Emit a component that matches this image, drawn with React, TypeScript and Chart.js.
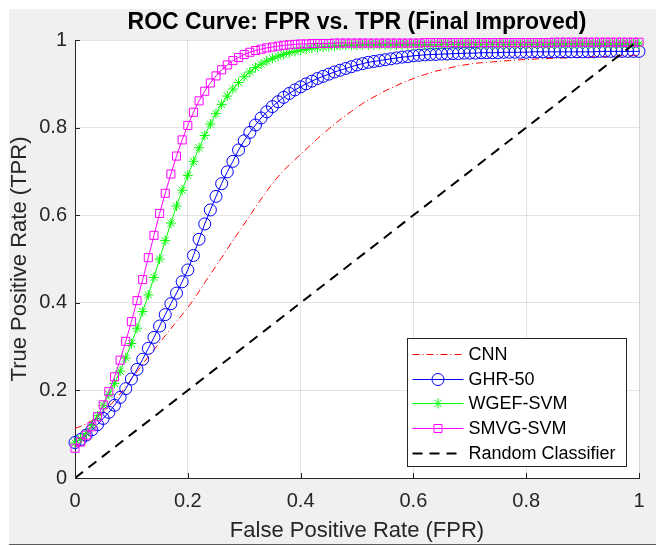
import React, { useEffect, useRef } from 'react';
import { Chart, registerables } from 'chart.js';

Chart.register(...registerables);

// ---------- data ----------
const FPR = [
  0, 0.01, 0.02, 0.03, 0.04, 0.05, 0.06, 0.07, 0.08, 0.09,
  0.1, 0.11, 0.12, 0.13, 0.14, 0.15, 0.16, 0.17, 0.18, 0.19,
  0.2, 0.21, 0.22, 0.23, 0.24, 0.25, 0.26, 0.27, 0.28, 0.29,
  0.3, 0.31, 0.32, 0.33, 0.34, 0.35, 0.36, 0.37, 0.38, 0.39,
  0.4, 0.41, 0.42, 0.43, 0.44, 0.45, 0.46, 0.47, 0.48, 0.49,
  0.5, 0.51, 0.52, 0.53, 0.54, 0.55, 0.56, 0.57, 0.58, 0.59,
  0.6, 0.61, 0.62, 0.63, 0.64, 0.65, 0.66, 0.67, 0.68, 0.69,
  0.7, 0.71, 0.72, 0.73, 0.74, 0.75, 0.76, 0.77, 0.78, 0.79,
  0.8, 0.81, 0.82, 0.83, 0.84, 0.85, 0.86, 0.87, 0.88, 0.89,
  0.9, 0.91, 0.92, 0.93, 0.94, 0.95, 0.96, 0.97, 0.98, 0.99,
  1,
];

const CNN_TPR = [
  0.113, 0.118, 0.124, 0.131, 0.139, 0.150, 0.163, 0.177, 0.192, 0.209,
  0.226, 0.243, 0.260, 0.277, 0.293, 0.309, 0.325, 0.341, 0.357, 0.373,
  0.389, 0.407, 0.426, 0.446, 0.465, 0.484, 0.503, 0.523, 0.542, 0.561,
  0.580, 0.599, 0.618, 0.637, 0.655, 0.672, 0.688, 0.702, 0.715, 0.727,
  0.739, 0.751, 0.763, 0.775, 0.786, 0.797, 0.808, 0.818, 0.828, 0.837,
  0.846, 0.855, 0.863, 0.870, 0.877, 0.884, 0.890, 0.896, 0.902, 0.907,
  0.912, 0.917, 0.921, 0.925, 0.929, 0.932, 0.935, 0.938, 0.941, 0.943,
  0.945, 0.947, 0.948, 0.949, 0.950, 0.951, 0.952, 0.953, 0.954, 0.955,
  0.955, 0.956, 0.957, 0.957, 0.958, 0.958, 0.959, 0.959, 0.960, 0.960,
  0.961, 0.961, 0.962, 0.962, 0.962, 0.963, 0.963, 0.964, 0.964, 0.965,
  0.965,
];

const GHR50_TPR = [
  0.081, 0.088, 0.098, 0.110, 0.122, 0.136, 0.150, 0.166, 0.184, 0.204,
  0.226, 0.248, 0.271, 0.296, 0.321, 0.347, 0.373, 0.398, 0.422, 0.448,
  0.475, 0.508, 0.545, 0.580, 0.612, 0.643, 0.672, 0.699, 0.723, 0.749,
  0.770, 0.789, 0.806, 0.822, 0.836, 0.848, 0.859, 0.869, 0.878, 0.886,
  0.893, 0.900, 0.906, 0.912, 0.917, 0.922, 0.927, 0.931, 0.935, 0.939,
  0.943, 0.946, 0.949, 0.951, 0.953, 0.955, 0.957, 0.959, 0.961, 0.962,
  0.964, 0.965, 0.966, 0.967, 0.967, 0.968, 0.968, 0.969, 0.969, 0.970,
  0.970, 0.970, 0.971, 0.971, 0.971, 0.971, 0.972, 0.972, 0.972, 0.972,
  0.972, 0.973, 0.973, 0.973, 0.973, 0.973, 0.973, 0.973, 0.973, 0.973,
  0.973, 0.973, 0.973, 0.974, 0.974, 0.974, 0.974, 0.974, 0.974, 0.974,
  0.974,
];

const WGEF_SVM_TPR = [
  0.080, 0.090, 0.102, 0.120, 0.142, 0.166, 0.191, 0.216, 0.244, 0.274,
  0.307, 0.342, 0.380, 0.418, 0.458, 0.500, 0.542, 0.582, 0.621, 0.657,
  0.691, 0.723, 0.754, 0.782, 0.808, 0.832, 0.853, 0.872, 0.888, 0.903,
  0.916, 0.927, 0.937, 0.945, 0.952, 0.958, 0.963, 0.967, 0.971, 0.974,
  0.977, 0.979, 0.981, 0.983, 0.984, 0.985, 0.986, 0.987, 0.988, 0.988,
  0.988, 0.989, 0.989, 0.989, 0.989, 0.989, 0.989, 0.989, 0.989, 0.989,
  0.989, 0.989, 0.989, 0.989, 0.989, 0.990, 0.990, 0.990, 0.990, 0.990,
  0.990, 0.990, 0.990, 0.990, 0.990, 0.990, 0.990, 0.990, 0.990, 0.990,
  0.990, 0.990, 0.990, 0.990, 0.990, 0.991, 0.991, 0.991, 0.991, 0.991,
  0.991, 0.991, 0.991, 0.991, 0.991, 0.991, 0.991, 0.991, 0.991, 0.991,
  0.991,
];

const SMVG_SVM_TPR = [
  0.068, 0.082, 0.098, 0.117, 0.140, 0.167, 0.197, 0.231, 0.269, 0.312,
  0.357, 0.405, 0.453, 0.503, 0.554, 0.604, 0.650, 0.694, 0.735, 0.772,
  0.805, 0.835, 0.861, 0.883, 0.902, 0.918, 0.932, 0.943, 0.953, 0.960,
  0.967, 0.972, 0.976, 0.979, 0.982, 0.984, 0.986, 0.988, 0.989, 0.990,
  0.991, 0.991, 0.992, 0.992, 0.992, 0.992, 0.993, 0.993, 0.993, 0.993,
  0.993, 0.993, 0.993, 0.993, 0.993, 0.993, 0.993, 0.993, 0.993, 0.993,
  0.993, 0.993, 0.994, 0.994, 0.994, 0.994, 0.994, 0.994, 0.994, 0.994,
  0.994, 0.994, 0.994, 0.994, 0.994, 0.994, 0.994, 0.994, 0.994, 0.994,
  0.994, 0.994, 0.994, 0.994, 0.994, 0.995, 0.995, 0.995, 0.995, 0.995,
  0.995, 0.995, 0.995, 0.995, 0.995, 0.995, 0.995, 0.995, 0.995, 0.995,
  0.995,
];

const RANDOM_FPR = [0, 1];
const RANDOM_TPR = [0, 1];

const X_TICKS = [0, 0.2, 0.4, 0.6, 0.8, 1];
const Y_TICKS = [0, 0.2, 0.4, 0.6, 0.8, 1];

const SERIES_NAMES = ['CNN', 'GHR-50', 'WGEF-SVM', 'SMVG-SVM', 'Random Classifier'];
const TITLE = 'ROC Curve: FPR vs. TPR (Final Improved)';
const X_LABEL = 'False Positive Rate (FPR)';
const Y_LABEL = 'True Positive Rate (TPR)';

// ---------- style ----------
const FONT = '"Liberation Sans", Arial, Helvetica, sans-serif';
const AXIS = '#262626';
const GRID = 'rgba(38,38,38,0.13)';
const RED = '#ff0000';
const BLUE = '#0000ff';
const GREEN = '#00ff00';
const MAGENTA = '#ff00ff';
const BLACK = '#000000';
const DASHDOT = [7, 3, 1, 3];
const DASHED = [10, 7];

type Sty = { color: string; dash: number[]; width: number; marker: string | null; r: number };
const STYLES: Sty[] = [
  { color: RED, dash: DASHDOT, width: 1, marker: null, r: 0 },
  { color: BLUE, dash: [], width: 1, marker: 'circle', r: 6 },
  { color: GREEN, dash: [], width: 1, marker: 'star', r: 5 },
  { color: MAGENTA, dash: [], width: 1, marker: 'rect', r: 5.7 },
  { color: BLACK, dash: DASHED, width: 2, marker: null, r: 0 },
];

function pts(xs: number[], ys: number[]) {
  return xs.map((x, i) => ({ x, y: ys[i] }));
}

function drawMarker(ctx: CanvasRenderingContext2D, kind: string, x: number, y: number, r: number, color: string) {
  ctx.save();
  ctx.strokeStyle = color;
  ctx.lineWidth = 1;
  ctx.setLineDash([]);
  ctx.beginPath();
  if (kind === 'circle') {
    ctx.arc(x, y, r, 0, Math.PI * 2);
  } else if (kind === 'rect') {
    const h = r * Math.SQRT1_2;
    ctx.rect(x - h, y - h, 2 * h, 2 * h);
  } else if (kind === 'star') {
    for (let k = 0; k < 4; k++) {
      const a = (k * Math.PI) / 4;
      ctx.moveTo(x - Math.cos(a) * r, y - Math.sin(a) * r);
      ctx.lineTo(x + Math.cos(a) * r, y + Math.sin(a) * r);
    }
  }
  ctx.stroke();
  ctx.restore();
}

const framePlugin = {
  id: 'matlabFrame',
  beforeDraw(chart: any) {
    const { ctx, chartArea: a } = chart;
    ctx.save();
    ctx.fillStyle = '#ffffff';
    ctx.fillRect(a.left, a.top, a.right - a.left, a.bottom - a.top);
    ctx.restore();
  },
  afterDraw(chart: any) {
    const { ctx, chartArea: a, scales } = chart;
    ctx.save();
    // inward tick marks
    ctx.strokeStyle = AXIS;
    ctx.lineWidth = 1;
    ctx.beginPath();
    const tl = 5;
    X_TICKS.forEach((v) => {
      const px = Math.round(scales.x.getPixelForValue(v)) + 0.5;
      ctx.moveTo(px, a.bottom);
      ctx.lineTo(px, a.bottom - tl);
    });
    Y_TICKS.forEach((v) => {
      const py = Math.round(scales.y.getPixelForValue(v)) + 0.5;
      ctx.moveTo(a.left, py);
      ctx.lineTo(a.left + tl, py);
    });
    ctx.stroke();

    // title
    ctx.fillStyle = '#000000';
    ctx.font = `bold 23px ${FONT}`;
    ctx.textAlign = 'center';
    ctx.textBaseline = 'middle';
    ctx.fillText(TITLE, (a.left + a.right) / 2, 13.5);

    // legend
    const bw = 219;
    const bh = 128;
    const bx = Math.round(a.right - 232) + 0.5;
    const by = Math.round(a.bottom - 140) + 0.5;
    ctx.fillStyle = '#ffffff';
    ctx.fillRect(bx, by, bw, bh);
    ctx.strokeStyle = AXIS;
    ctx.lineWidth = 1;
    ctx.strokeRect(bx, by, bw, bh);
    const rowY = [16, 41, 65, 90, 115];
    ctx.font = `18px ${FONT}`;
    ctx.textAlign = 'left';
    ctx.textBaseline = 'middle';
    SERIES_NAMES.forEach((name, i) => {
      const s = STYLES[i];
      const yy = by + rowY[i];
      ctx.save();
      ctx.strokeStyle = s.color;
      ctx.lineWidth = s.width;
      ctx.setLineDash(s.dash);
      ctx.beginPath();
      ctx.moveTo(bx + 5, yy);
      ctx.lineTo(bx + 56, yy);
      ctx.stroke();
      ctx.restore();
      if (s.marker) drawMarker(ctx, s.marker, bx + 30.5, yy, s.r, s.color);
      ctx.fillStyle = '#000000';
      ctx.fillText(name, bx + 61, yy + 1);
    });
    ctx.restore();
  },
};

export default function App() {
  const ref = useRef<HTMLCanvasElement | null>(null);

  useEffect(() => {
    if (!ref.current) return;
    const series = [
      pts(FPR, CNN_TPR),
      pts(FPR, GHR50_TPR),
      pts(FPR, WGEF_SVM_TPR),
      pts(FPR, SMVG_SVM_TPR),
      pts(RANDOM_FPR, RANDOM_TPR),
    ];
    const datasets = series.map((data, i) => {
      const s = STYLES[i];
      return {
        label: SERIES_NAMES[i],
        data,
        borderColor: s.color,
        borderWidth: s.width,
        borderDash: s.dash,
        backgroundColor: 'rgba(0,0,0,0)',
        fill: false,
        tension: 0,
        pointStyle: s.marker || 'circle',
        pointRadius: s.marker ? s.r : 0,
        pointHoverRadius: s.marker ? s.r : 0,
        pointBorderColor: s.color,
        pointBackgroundColor: 'rgba(0,0,0,0)',
        pointBorderWidth: 1,
        clip: s.marker ? false : undefined,
        order: 5 - i,
      };
    });

    const chart = new Chart(ref.current, {
      type: 'line',
      data: { datasets } as any,
      options: {
        animation: false,
        responsive: false,
        maintainAspectRatio: false,
        parsing: true,
        layout: { padding: { top: 31, right: 17, left: 0, bottom: 0 } },
        plugins: {
          legend: { display: false },
          tooltip: { enabled: false },
          title: { display: false },
        },
        scales: {
          x: {
            type: 'linear',
            min: 0,
            max: 1,
            afterBuildTicks: (s: any) => {
              s.ticks = X_TICKS.map((v) => ({ value: v }));
            },
            afterFit: (s: any) => {
              s.height = 66;
            },
            grid: { color: GRID, drawTicks: false, lineWidth: 1 },
            border: { color: AXIS, width: 1 },
            ticks: {
              font: { family: FONT, size: 20 },
              color: AXIS,
              padding: 11,
              maxRotation: 0,
              autoSkip: false,
              callback: (v: any) => String(v),
            },
            title: {
              display: true,
              text: X_LABEL,
              color: AXIS,
              font: { family: FONT, size: 22, lineHeight: 1 },
              padding: { top: 2, bottom: 2 },
            },
          },
          y: {
            type: 'linear',
            min: 0,
            max: 1,
            afterBuildTicks: (s: any) => {
              s.ticks = Y_TICKS.map((v) => ({ value: v }));
            },
            afterFit: (s: any) => {
              s.width = 66;
            },
            grid: { color: GRID, drawTicks: false, lineWidth: 1 },
            border: { color: AXIS, width: 1 },
            ticks: {
              font: { family: FONT, size: 20 },
              color: AXIS,
              padding: 8,
              autoSkip: false,
              callback: (v: any) => String(v),
            },
            title: {
              display: true,
              text: Y_LABEL,
              color: AXIS,
              font: { family: FONT, size: 22, lineHeight: 1 },
              padding: { top: 0, bottom: 0 },
            },
          },
        },
      } as any,
      plugins: [framePlugin],
    });
    return () => chart.destroy();
  }, []);

  return (
    <div
      style={{
        position: 'absolute',
        left: 9,
        top: 9,
        width: 647,
        height: 535,
        background: '#f0f0f0',
        borderBottom: '1px solid #5e5e5e',
      }}
    >
      <canvas ref={ref} width={647} height={535} style={{ display: 'block', width: 647, height: 535 }} />
    </div>
  );
}
